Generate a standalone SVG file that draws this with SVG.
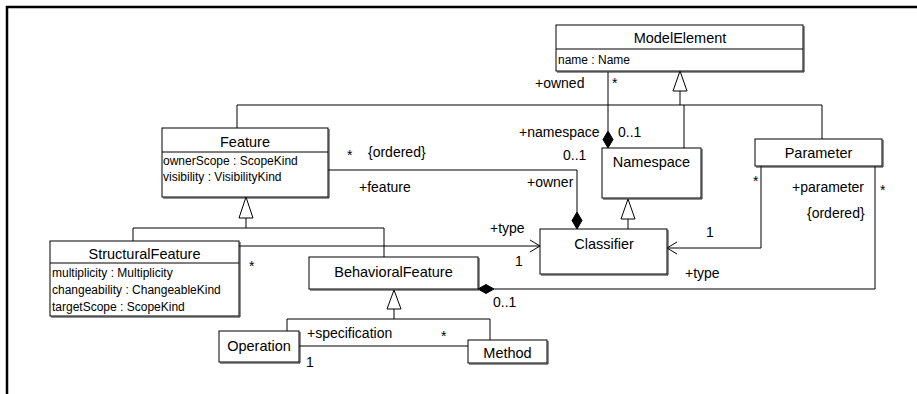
<svg xmlns="http://www.w3.org/2000/svg" width="917" height="394" viewBox="0 0 917 394">
<defs>
<style>
.frame{fill:none;stroke:#000;stroke-width:2.5}
.box{fill:#fff;stroke:#000;stroke-width:1}
.sh{fill:none;stroke:#222;stroke-width:1}
.ln{fill:none;stroke:#000;stroke-width:1}
.tri{fill:#fff;stroke:#000;stroke-width:1}
.dia{fill:#000;stroke:#000;stroke-width:1}
text{font-family:"Liberation Sans",Arial,sans-serif;fill:#000}
.t{font-size:14.5px;text-anchor:middle}
.a{font-size:12px}
.l{font-size:14px}
</style>
</defs>
<rect width="917" height="394" fill="#fff"/>
<path class="frame" d="M7,394 V7 H917"/>

<g id="connectors">
<path class="ln" d="M237,128 V105 H822 V139"/>
<path class="ln" d="M684,148 V105"/>
<path class="ln" d="M680,105 V91"/>
<polygon class="tri" points="680,71 673,91 687,91"/>
<path class="ln" d="M608,72 V131"/>
<polygon class="dia" points="608,148 603,139.5 608,131 613,139.5"/>
<path class="ln" d="M328,170 H577 V212"/>
<polygon class="dia" points="577,229 572,220.5 577,212 582,220.5"/>
<path class="ln" d="M628,229 V219"/>
<polygon class="tri" points="628,199 621,219 635,219"/>
<path class="ln" d="M761,166 V248 H667"/>
<path class="ln" d="M677,242 L667,248 L677,254"/>
<path class="ln" d="M875,166 V289 H494"/>
<polygon class="dia" points="478,289 486,284.5 494,289 486,293.5"/>
<polygon class="tri" points="246,197 239,218 253,218"/>
<path class="ln" d="M246,218 V228"/>
<path class="ln" d="M133,241 V228 H384 V257"/>
<path class="ln" d="M239,246 H540"/>
<path class="ln" d="M530,240 L540,246 L530,252"/>
<polygon class="tri" points="394,290 387,309 401,309"/>
<path class="ln" d="M394,309 V319"/>
<path class="ln" d="M287,331 V319 H490 V340"/>
<path class="ln" d="M299,346 H468"/>
</g>

<g id="ModelElement">
<rect class="box" x="556" y="25" width="247" height="46"/>
<path class="sh" d="M804,26 V72 H557"/>
<path class="ln" d="M556,49 H803"/>
<text class="t" x="680" y="43">ModelElement</text>
<text class="a" x="558" y="64">name : Name</text>
</g>

<g id="Namespace">
<rect class="box" x="602" y="148" width="99" height="50"/>
<path class="sh" d="M702,149 V199 H603"/>
<text class="t" x="651.5" y="167">Namespace</text>
</g>

<g id="Parameter">
<rect class="box" x="755" y="139" width="127" height="27"/>
<path class="sh" d="M883,140 V167 H756"/>
<text class="t" x="818.5" y="158">Parameter</text>
</g>

<g id="Classifier">
<rect class="box" x="540" y="229" width="127" height="45"/>
<path class="sh" d="M668,230 V275 H541"/>
<text class="t" x="604" y="249">Classifier</text>
</g>

<g id="Feature">
<rect class="box" x="162" y="128" width="166" height="69"/>
<path class="sh" d="M329,129 V198 H163"/>
<path class="ln" d="M162,152 H328"/>
<text class="t" x="245" y="147">Feature</text>
<text class="a" x="163" y="165">ownerScope : ScopeKind</text>
<text class="a" x="163" y="181">visibility : VisibilityKind</text>
</g>

<g id="StructuralFeature">
<rect class="box" x="50" y="241" width="189" height="75"/>
<path class="sh" d="M240,242 V317 H51"/>
<path class="ln" d="M50,263 H239"/>
<text class="t" x="144.5" y="259">StructuralFeature</text>
<text class="a" x="52" y="277">multiplicity : Multiplicity</text>
<text class="a" x="52" y="294">changeability : ChangeableKind</text>
<text class="a" x="52" y="311">targetScope : ScopeKind</text>
</g>

<g id="BehavioralFeature">
<rect class="box" x="309" y="257" width="169" height="32"/>
<path class="sh" d="M479,258 V290 H310"/>
<text class="t" x="393.5" y="277">BehavioralFeature</text>
</g>

<g id="Operation">
<rect class="box" x="219" y="331" width="80" height="31"/>
<path class="sh" d="M300,332 V363 H220"/>
<text class="t" x="259" y="351">Operation</text>
</g>

<g id="Method">
<rect class="box" x="468" y="340" width="79" height="23"/>
<path class="sh" d="M548,341 V364 H469"/>
<text class="t" x="507.5" y="358">Method</text>
</g>

<g id="labels">
<text class="l" x="535" y="88">+owned</text>
<text class="l" x="612" y="88">*</text>
<text class="l" x="519" y="137">+namespace</text>
<text class="l" x="618" y="137">0..1</text>
<text class="l" x="563" y="160">0..1</text>
<text class="l" x="527" y="187">+owner</text>
<text class="l" x="347" y="160">*</text>
<text class="l" x="368" y="157">{ordered}</text>
<text class="l" x="359" y="192">+feature</text>
<text class="l" x="753" y="186">*</text>
<text class="l" x="792" y="192">+parameter</text>
<text class="l" x="880" y="195">*</text>
<text class="l" x="807" y="218">{ordered}</text>
<text class="l" x="706" y="237">1</text>
<text class="l" x="685" y="278">+type</text>
<text class="l" x="490" y="233">+type</text>
<text class="l" x="515" y="266">1</text>
<text class="l" x="249" y="271">*</text>
<text class="l" x="493" y="307">0..1</text>
<text class="l" x="307" y="338">+specification</text>
<text class="l" x="441" y="341">*</text>
<text class="l" x="306" y="367">1</text>
</g>
</svg>
